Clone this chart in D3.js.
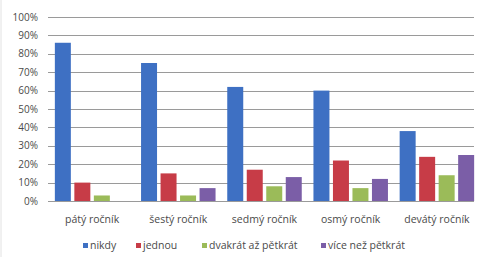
<!DOCTYPE html>
<html>
<head>
<meta charset="utf-8">
<script src="https://cdn.jsdelivr.net/npm/d3@7"></script>
<style>
  body { margin: 0; background: #fff; }
  svg text { font-family: "Open Sans", "Liberation Sans", sans-serif; fill: #4a4a4a; }
</style>
</head>
<body>
<div id="wrapper"></div>
<script>
const categories = ['pátý ročník', 'šestý ročník', 'sedmý ročník', 'osmý ročník', 'devátý ročník'];
const seriesNames = ['nikdy', 'jednou', 'dvakrát až pětkrát', 'více než pětkrát'];
const nikdy = [86, 75, 62, 60, 38];
const jednou = [10, 15, 17, 22, 24];
const dvakrat = [3, 3, 8, 7, 14];
const vice = [0, 7, 13, 12, 25];
const yTicks = [0, 10, 20, 30, 40, 50, 60, 70, 80, 90, 100];
const colors = ['#3e70c3', '#c73c47', '#9bbb59', '#7b5ea7'];

const seriesValues = [nikdy, jednou, dvakrat, vice];

const width = 479;
const height = 257;
const margin = { top: 17, right: 0, bottom: 56, left: 48 };
const gridRight = 474;

const svg = d3.select('#wrapper')
  .append('svg')
  .attr('width', width)
  .attr('height', height);

// faint chart border on the left
svg.append('line')
  .attr('x1', 1).attr('x2', 1)
  .attr('y1', 0).attr('y2', height)
  .attr('stroke', '#e2e2e2');

const x = d3.scaleBand()
  .domain(categories)
  .range([margin.left, width - margin.right]);

const xInner = d3.scaleBand()
  .domain(seriesNames)
  .range([0, x.bandwidth()])
  .paddingInner(0.18)
  .paddingOuter(0.3);

const y = d3.scaleLinear()
  .domain([0, 100])
  .range([height - margin.bottom, margin.top]);

// gridlines
svg.append('g')
  .selectAll('line')
  .data(yTicks)
  .join('line')
  .attr('x1', margin.left)
  .attr('x2', gridRight)
  .attr('y1', (d) => Math.round(y(d)) + 0.5)
  .attr('y2', (d) => Math.round(y(d)) + 0.5)
  .attr('stroke', '#9a9a9a')
  .attr('stroke-width', 1);

// y labels
svg.append('g')
  .selectAll('text')
  .data(yTicks)
  .join('text')
  .attr('x', 38)
  .attr('y', (d) => y(d) + 3.5)
  .attr('text-anchor', 'end')
  .style('font-size', '10px')
  .text((d) => `${d}%`);

// bars
const rows = categories.map((c, i) => ({
  category: c,
  values: seriesNames.map((s, j) => ({ series: s, value: seriesValues[j][i], color: colors[j] })),
}));

svg.append('g')
  .selectAll('g')
  .data(rows)
  .join('g')
  .attr('transform', (d) => `translate(${x(d.category) + 1},0)`)
  .selectAll('rect')
  .data((d) => d.values)
  .join('rect')
  .attr('x', (d) => xInner(d.series))
  .attr('width', xInner.bandwidth())
  .attr('y', (d) => y(d.value))
  .attr('height', (d) => y(0) - y(d.value))
  .attr('fill', (d) => d.color);

// category labels
svg.append('g')
  .selectAll('text')
  .data(categories)
  .join('text')
  .attr('x', (d) => x(d) + x.bandwidth() / 2 + 1)
  .attr('y', 223)
  .attr('text-anchor', 'middle')
  .style('font-size', '10.5px')
  .text((d) => d);

// legend
const legendX = [83, 136, 202, 321];
const legend = svg.append('g')
  .selectAll('g')
  .data(seriesNames)
  .join('g')
  .attr('transform', (d, i) => `translate(${legendX[i]},249)`);

legend.append('rect')
  .attr('x', 0)
  .attr('y', -6)
  .attr('width', 5)
  .attr('height', 5)
  .attr('fill', (d, i) => colors[i]);

legend.append('text')
  .attr('x', 7)
  .attr('y', 0)
  .style('font-size', '10.5px')
  .text((d) => d);
</script>
</body>
</html>
